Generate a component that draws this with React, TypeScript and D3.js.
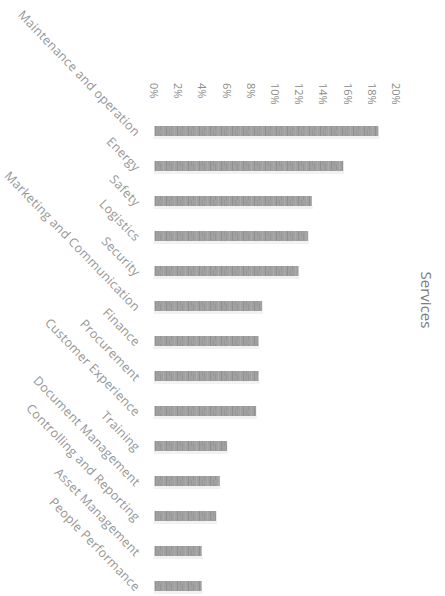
import React from "react";
import * as d3 from "d3";

const categories = [
  "Maintenance and operation",
  "Energy",
  "Safety",
  "Logistics",
  "Security",
  "Marketing and Communication",
  "Finance",
  "Procurement",
  "Customer Experience",
  "Training",
  "Document Management",
  "Controlling and Reporting",
  "Asset Management",
  "People Performance",
];
const values = [18.5, 15.6, 13.0, 12.7, 11.9, 8.9, 8.6, 8.6, 8.4, 6.0, 5.4, 5.1, 3.9, 3.9];
const tickValues = [0, 2, 4, 6, 8, 10, 12, 14, 16, 18, 20];
const axisTitle = "Services";

const W = 445;
const H = 596;

export default function App() {
  const x = d3.scaleLinear().domain([0, 20]).range([154.5, 396.5]);
  const y = d3.scalePoint<string>().domain(categories).range([131, 586]).padding(0);
  const barH = 10;
  const font = "'Open Sans', 'Noto Sans', sans-serif";

  return (
    <svg
      width={W}
      height={H}
      style={{ position: "absolute", left: 0, top: 0, background: "#fff" }}
    >
      <defs>
        <pattern id="tex" width="11" height="10" patternUnits="userSpaceOnUse">
          <rect width="11" height="10" fill="#a1a1a1" />
          <rect x="1" width="1" height="10" fill="#909090" />
          <rect x="4" y="0" width="1" height="6" fill="#979797" />
          <rect x="6" y="4" width="1" height="6" fill="#959595" />
          <rect x="9" width="1" height="10" fill="#aaaaaa" />
        </pattern>
      </defs>
      {tickValues.map((t) => (
        <text
          key={t}
          transform={`translate(${x(t)},83) rotate(90)`}
          textAnchor="start"
          dominantBaseline="central"
          fontFamily={font}
          fontSize={11}
          fill="#8c8c8c"
        >
          {d3.format(".0f")(t) + "%"}
        </text>
      ))}
      {categories.map((c, i) => {
        const cy = y(c) as number;
        return (
          <g key={c}>
            <rect
              x={x(0) - 1}
              y={cy + barH / 2}
              width={x(values[i]) - x(0) + 2}
              height={3}
              fill="#f2f2f2"
            />
            <rect
              x={x(0)}
              y={cy - barH / 2}
              width={x(values[i]) - x(0)}
              height={barH}
              fill="url(#tex)"
            />
            <text
              transform={`translate(138,${cy + 3}) rotate(46)`}
              textAnchor="end"
              dominantBaseline="central"
              fontFamily={font}
              fontSize={12.5}
              letterSpacing={0.3}
              fill="#959595"
            >
              {c}
            </text>
          </g>
        );
      })}
      <text
        transform={`translate(427,300) rotate(90)`}
        textAnchor="middle"
        dominantBaseline="central"
        fontFamily={font}
        fontSize={15}
        fill="#7a7a7a"
      >
        {axisTitle}
      </text>
    </svg>
  );
}
